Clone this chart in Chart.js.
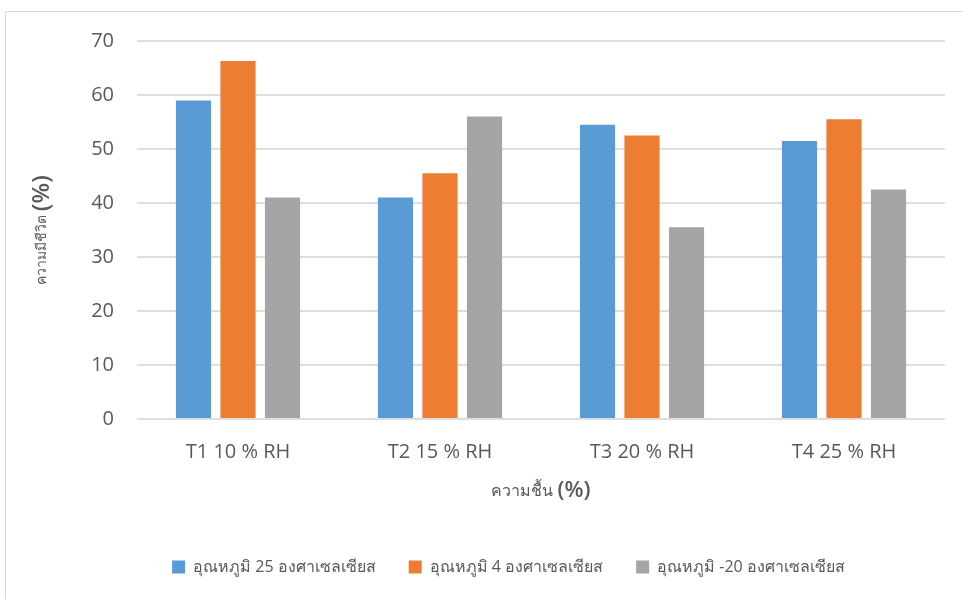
<!DOCTYPE html>
<html>
<head>
<meta charset="utf-8">
<script src="https://cdn.jsdelivr.net/npm/chart.js@4/dist/chart.umd.min.js"></script>
<style>
  html, body { margin: 0; padding: 0; background: #fff; overflow: hidden; }
  #wrap { position: relative; width: 963px; height: 599px; }
  #frame { position: absolute; left: 5px; top: 11px; width: 1000px; height: 700px; border: 1px solid #d9d9d9; box-sizing: border-box; }
  canvas { position: absolute; left: 0; top: 0; }
</style>
</head>
<body>
<div id="wrap">
  <div id="frame"></div>
  <canvas id="c" width="963" height="599"></canvas>
</div>
<script>
// Humidity treatments on the x axis
const categories = ['T1 10 % RH', 'T2 15 % RH', 'T3 20 % RH', 'T4 25 % RH'];
// Viability (%) per storage temperature
const temp25 = [59, 41, 54.5, 51.5];
const temp4 = [66.3, 45.5, 52.5, 55.5];
const tempMinus20 = [41, 56, 35.5, 42.5];
const seriesNames = ['อุณหภูมิ 25 องศาเซลเซียส', 'อุณหภูมิ 4 องศาเซลเซียส', 'อุณหภูมิ -20 องศาเซลเซียส'];
const yTicks = [0, 10, 20, 30, 40, 50, 60, 70];

const TEXT = '#595959';
const FONT = "'Open Sans', 'Noto Sans', sans-serif";

// Axis titles mix a small Thai word with a larger "(%)"
const axisTitles = {
  id: 'axisTitles',
  afterLayout(chart) {
    // legend row sits a little right of the canvas centre
    if (chart.legend) { chart.legend.left += 36; chart.legend.right += 36; }
  },
  afterDraw(chart) {
    const ctx = chart.ctx;
    const area = chart.chartArea;
    function drawParts(parts) {
      let total = 0;
      parts.forEach(p => { ctx.font = p.font; p.w = ctx.measureText(p.text).width; total += p.w; });
      let x = -total / 2;
      parts.forEach(p => { ctx.font = p.font; ctx.fillText(p.text, x, 0); x += p.w; });
    }
    ctx.save();
    ctx.fillStyle = TEXT;
    ctx.textBaseline = 'middle';
    ctx.textAlign = 'left';
    ctx.translate((area.left + area.right) / 2, 491);
    drawParts([
      { text: 'ความชื้น ', font: `16px ${FONT}` },
      { text: '(%)', font: `600 22px ${FONT}` }
    ]);
    ctx.restore();

    ctx.save();
    ctx.fillStyle = TEXT;
    ctx.textBaseline = 'middle';
    ctx.textAlign = 'left';
    ctx.translate(42, 230);
    ctx.rotate(-Math.PI / 2);
    drawParts([
      { text: 'ความมีชีวิต ', font: `14px ${FONT}` },
      { text: '(%)', font: `600 24px ${FONT}` }
    ]);
    ctx.restore();
  }
};

new Chart(document.getElementById('c'), {
  type: 'bar',
  data: {
    labels: categories,
    datasets: [
      { label: seriesNames[0], data: temp25, backgroundColor: '#5B9BD5' },
      { label: seriesNames[1], data: temp4, backgroundColor: '#ED7D31' },
      { label: seriesNames[2], data: tempMinus20, backgroundColor: '#A5A5A5' }
    ]
  },
  options: {
    responsive: false,
    animation: false,
    devicePixelRatio: 1,
    categoryPercentage: 0.661,
    barPercentage: 0.79,
    layout: { padding: { top: 41, right: 18, bottom: 14, left: 0 } },
    plugins: {
      tooltip: { enabled: false },
      legend: {
        position: 'bottom',
        labels: {
          boxWidth: 13,
          boxHeight: 13,
          padding: 33,
          color: TEXT,
          font: { family: FONT, size: 16 }
        }
      }
    },
    scales: {
      x: {
        grid: { display: false, drawTicks: false },
        border: { display: false },
        ticks: { color: TEXT, font: { family: FONT, size: 20 }, padding: 21 },
        afterFit(scale) {
          const legendH = scale.chart.legend ? scale.chart.legend.height : 0;
          scale.height = 599 - 419 - 14 - legendH;
        }
      },
      y: {
        min: 0,
        max: 70,
        afterBuildTicks(scale) { scale.ticks = yTicks.map(v => ({ value: v })); },
        grid: { color: '#dedede', lineWidth: 2, drawTicks: false },
        border: { display: false },
        ticks: { color: TEXT, font: { family: FONT, size: 20 }, padding: 23 },
        afterFit(scale) { scale.width = 137; }
      }
    }
  },
  plugins: [axisTitles]
});
</script>
</body>
</html>
